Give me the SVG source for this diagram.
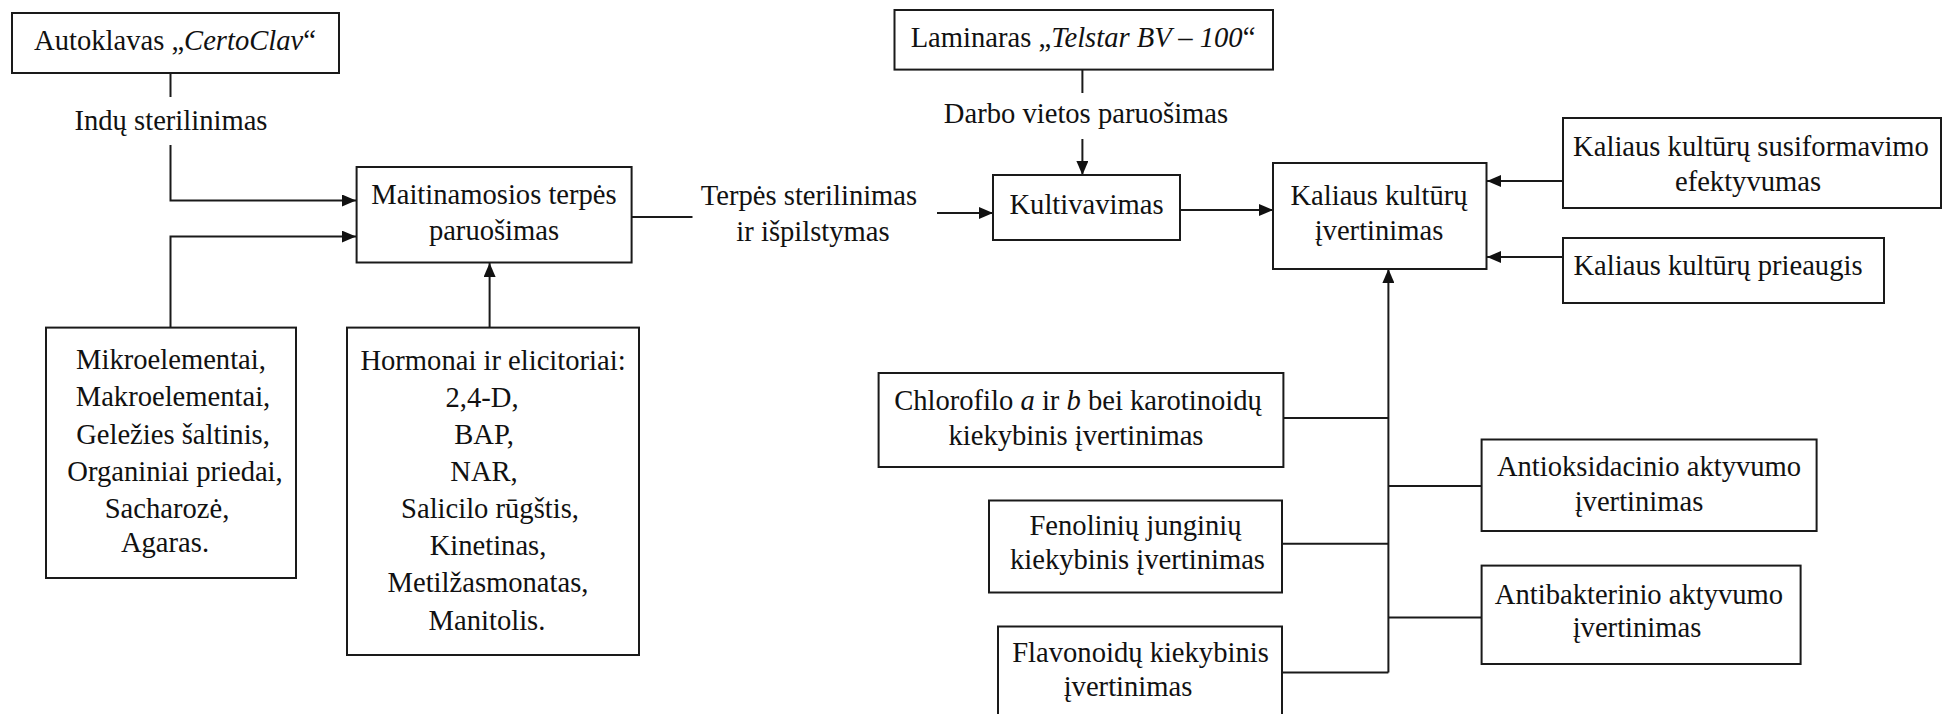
<svg xmlns="http://www.w3.org/2000/svg" width="1943" height="714" viewBox="0 0 1943 714" font-family="Liberation Serif, Times New Roman, serif">
<style>
  .box { fill: #ffffff; stroke: #1a1a1a; stroke-width: 2; }
  text { font-family: 'Liberation Serif', 'Times New Roman', 'DejaVu Serif', serif; font-size: 28.6px; fill: #111111; text-anchor: middle; }
  .c { fill: none; stroke: #1a1a1a; stroke-width: 2; }
  .i { font-style: italic; }
</style>
<defs>
  <marker id="arr" markerUnits="userSpaceOnUse" markerWidth="15" markerHeight="12" refX="14" refY="6" orient="auto">
    <path d="M0,0 L14,6 L0,12 z" fill="#111111"/>
  </marker>
</defs>
<rect width="1943" height="714" fill="#ffffff"/>

<g id="connectors">
  <path class="c" d="M170.5,73 V97"/>
  <path class="c" d="M170.5,145 V200.5 H356" marker-end="url(#arr)"/>
  <path class="c" d="M170.5,327.6 V236.6 H356" marker-end="url(#arr)"/>
  <path class="c" d="M489.6,327.6 V263" marker-end="url(#arr)"/>
  <path class="c" d="M631.5,217 H692.5"/>
  <path class="c" d="M937,213 H993" marker-end="url(#arr)"/>
  <path class="c" d="M1082.4,69.6 V93"/>
  <path class="c" d="M1082.4,139 V175" marker-end="url(#arr)"/>
  <path class="c" d="M1180,210 H1273" marker-end="url(#arr)"/>
  <path class="c" d="M1563,181 H1487" marker-end="url(#arr)"/>
  <path class="c" d="M1563,257 H1487" marker-end="url(#arr)"/>
  <path class="c" d="M1388.4,672.5 V269" marker-end="url(#arr)"/>
  <path class="c" d="M1283.4,418 H1388.4"/>
  <path class="c" d="M1282,543.7 H1388.4"/>
  <path class="c" d="M1282,672.5 H1388.4"/>
  <path class="c" d="M1388.4,486 H1481.6"/>
  <path class="c" d="M1388.4,617.5 H1481.6"/>
</g>

<g id="label-indu">
  <text x="171" y="130">Indų sterilinimas</text>
</g>
<g id="label-terpes">
  <text x="809" y="205">Terpės sterilinimas</text>
  <text x="813" y="241">ir išpilstymas</text>
</g>
<g id="label-darbo">
  <text x="1086" y="123">Darbo vietos paruošimas</text>
</g>

<g id="autoklavas">
  <rect class="box" x="12" y="13" width="327" height="60"/>
  <text x="175" y="50">Autoklavas „<tspan class="i">CertoClav</tspan>“</text>
</g>

<g id="maitinamosios">
  <rect class="box" x="356.6" y="167" width="275" height="95.5"/>
  <text x="494" y="204">Maitinamosios terpės</text>
  <text x="494" y="240">paruošimas</text>
</g>

<g id="mikroelementai">
  <rect class="box" x="46" y="327.6" width="250" height="250.4"/>
  <text x="171" y="368.6">Mikroelementai,</text>
  <text x="173" y="406">Makroelementai,</text>
  <text x="173" y="443.6">Geležies šaltinis,</text>
  <text x="175" y="481">Organiniai priedai,</text>
  <text x="167" y="518">Sacharozė,</text>
  <text x="165" y="552">Agaras.</text>
</g>

<g id="hormonai">
  <rect class="box" x="347" y="327.6" width="292" height="327.4"/>
  <text x="493" y="369.5">Hormonai ir elicitoriai:</text>
  <text x="482" y="407">2,4-D,</text>
  <text x="484" y="443.6">BAP,</text>
  <text x="484" y="481">NAR,</text>
  <text x="490" y="518">Salicilo rūgštis,</text>
  <text x="488" y="555">Kinetinas,</text>
  <text x="488" y="592">Metilžasmonatas,</text>
  <text x="487" y="630">Manitolis.</text>
</g>

<g id="laminaras">
  <rect class="box" x="894.5" y="10" width="378.5" height="59.6"/>
  <text x="1083" y="47">Laminaras „<tspan class="i">Telstar BV – 100</tspan>“</text>
</g>

<g id="kultivavimas">
  <rect class="box" x="993" y="175" width="187" height="65"/>
  <text x="1086.5" y="214">Kultivavimas</text>
</g>

<g id="kaliaus-ivertinimas">
  <rect class="box" x="1273" y="163" width="213.5" height="106"/>
  <text x="1379" y="205">Kaliaus kultūrų</text>
  <text x="1379" y="240">įvertinimas</text>
</g>

<g id="susiformavimo">
  <rect class="box" x="1563" y="118" width="378" height="90"/>
  <text x="1751" y="156">Kaliaus kultūrų susiformavimo</text>
  <text x="1748" y="191">efektyvumas</text>
</g>

<g id="prieaugis">
  <rect class="box" x="1563" y="238" width="321" height="65"/>
  <text x="1718" y="275">Kaliaus kultūrų prieaugis</text>
</g>

<g id="chlorofilo">
  <rect class="box" x="878.6" y="373" width="404.8" height="94"/>
  <text x="1078" y="409.5">Chlorofilo <tspan class="i">a</tspan> ir <tspan class="i">b</tspan> bei karotinoidų</text>
  <text x="1076" y="445">kiekybinis įvertinimas</text>
</g>

<g id="fenoliniu">
  <rect class="box" x="989" y="500.5" width="293" height="92"/>
  <text x="1135.5" y="534.6">Fenolinių junginių</text>
  <text x="1137.5" y="569">kiekybinis įvertinimas</text>
</g>

<g id="flavonoidu">
  <rect class="box" x="998" y="626.5" width="284" height="110"/>
  <text x="1140.5" y="662">Flavonoidų kiekybinis</text>
  <text x="1128" y="696">įvertinimas</text>
</g>

<g id="antioksidacinio">
  <rect class="box" x="1481.6" y="439.5" width="335" height="91.5"/>
  <text x="1649" y="475.5">Antioksidacinio aktyvumo</text>
  <text x="1639" y="510.5">įvertinimas</text>
</g>

<g id="antibakterinio">
  <rect class="box" x="1481.6" y="565.6" width="319" height="98.4"/>
  <text x="1639" y="604">Antibakterinio aktyvumo</text>
  <text x="1637" y="637">įvertinimas</text>
</g>
</svg>
